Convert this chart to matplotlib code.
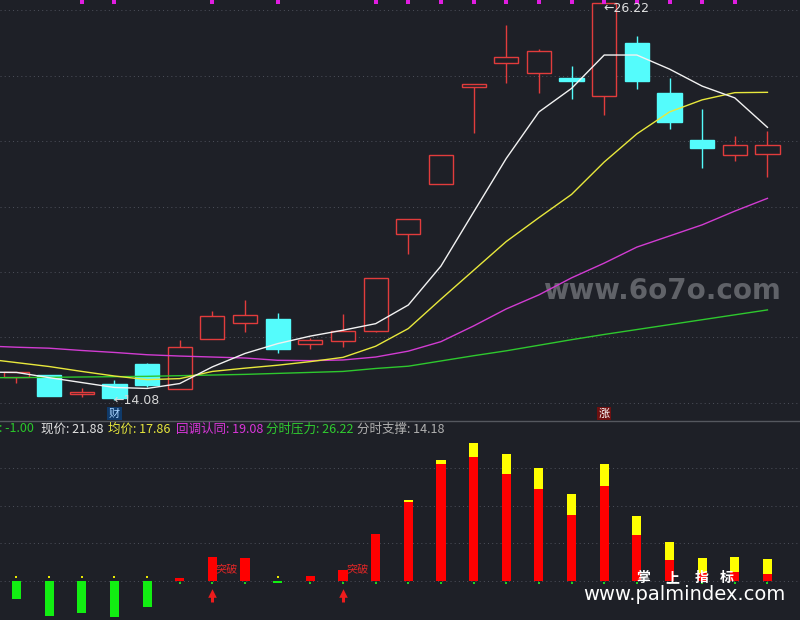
import matplotlib
matplotlib.use('Agg')
import matplotlib.pyplot as plt
import numpy as np
from matplotlib.lines import Line2D
from matplotlib.transforms import blended_transform_factory

# ---------------- data ----------------
opens  = [14.80, 14.85, 14.26, 14.58, 15.19, 14.41, 15.94, 16.45, 16.56, 15.81, 15.90, 16.20,
          19.16, 20.69, 23.66, 24.40, 24.09, 23.93, 23.39, 24.99, 23.47, 22.03, 21.57, 21.61]
closes = [14.93, 14.22, 14.33, 14.16, 14.55, 15.71, 16.64, 16.68, 15.65, 15.91, 16.20, 17.81,
          19.62, 21.57, 23.74, 24.56, 24.75, 23.84, 26.22, 23.85, 22.59, 21.80, 21.89, 21.88]
highs  = [14.93, 14.85, 14.46, 14.70, 15.22, 15.92, 16.81, 17.14, 16.74, 15.98, 16.72, 17.81,
          19.62, 21.57, 23.74, 25.55, 24.80, 24.29, 26.22, 25.21, 23.92, 22.97, 22.16, 22.31]
lows   = [14.60, 14.22, 14.19, 14.08, 14.49, 14.41, 15.94, 16.17, 15.53, 15.64, 15.70, 16.16,
          18.54, 20.69, 22.25, 23.77, 23.48, 23.28, 22.80, 23.60, 22.36, 21.17, 21.40, 20.89]

# moving averages, starting one bar before the first visible candle
ma5  = [14.94, 14.93, 14.77, 14.62, 14.47, 14.44, 14.59, 15.10, 15.51, 15.81, 16.04, 16.22, 16.42,
        16.99, 18.18, 19.83, 21.47, 22.89, 23.61, 24.63, 24.63, 24.20, 23.68, 23.32, 22.42]
ma10 = [15.35, 15.23, 15.11, 14.96, 14.82, 14.71, 14.74, 14.96, 15.06, 15.15, 15.26, 15.39, 15.73,
        16.27, 17.17, 18.05, 18.93, 19.66, 20.37, 21.36, 22.22, 22.89, 23.26, 23.48, 23.49]
ma20 = [15.74, 15.70, 15.67, 15.60, 15.54, 15.47, 15.43, 15.40, 15.37, 15.30, 15.29, 15.31, 15.40,
        15.58, 15.87, 16.35, 16.87, 17.30, 17.82, 18.27, 18.76, 19.10, 19.44, 19.86, 20.25]
ma60 = [14.77, 14.77, 14.78, 14.79, 14.80, 14.81, 14.83, 14.85, 14.87, 14.90, 14.93, 14.96, 15.05,
        15.12, 15.28, 15.44, 15.59, 15.76, 15.93, 16.09, 16.24, 16.39, 16.54, 16.69, 16.84]

top_marks = [2, 3, 6, 8, 11, 12, 13, 14, 15, 16, 17, 18, 19, 20, 21, 22]
event_bars = [3, 18]
event_labels = ['财', '涨']
high_label = '26.22'
low_label = '14.08'

# lower indicator panel
momentum = [-4.80, -9.33, -8.53, -9.60, -6.93, 0.72, 6.32, 5.97, -0.53, 1.25, 2.85, 12.45,
            20.99, 31.12, 32.99, 28.45, 24.45, 17.52, 25.25, 12.19, 5.52, 2.05, 2.32, 1.79]
extension = [0, 0, 0, 0, 0, 0, 0, 0, 0, 0, 0, 0,
             0.53, 1.07, 3.73, 5.34, 5.60, 5.60, 5.87, 5.06, 4.80, 4.00, 4.00, 4.00]
signal_bars = [6, 10]
signal_text = '突破'

header_labels = [': -1.00', '现价: 21.88', '均价: 17.86', '回调认同: 19.08', '分时压力: 26.22', '分时支撑: 14.18']
header_colors = ['#2ac82a', '#e4e4e4', '#e6e63c', '#d936d9', '#30cc30', '#b0b0b0']
header_x = [-1, 41, 108, 176, 266.5, 357]

# ---------------- style ----------------
BG = '#1e2027'
RED = '#e23c3c'
CYAN = '#54fcfc'
GRID = '#4a4d57'
W, H = 800, 620
MAIN_H = 421
CJK = ['Noto Sans CJK SC', 'DejaVu Sans']

fig = plt.figure(figsize=(W / 100, H / 100), dpi=100, facecolor=BG)
ax = fig.add_axes([0, 1 - MAIN_H / H, 1, MAIN_H / H])
ax2 = fig.add_axes([0, 0, 1, 1 - MAIN_H / H])
step = 32.65
xlim = (-16.5 / step, (W - 16.5) / step)
for a in (ax, ax2):
    a.set_facecolor(BG)
    a.set_xlim(*xlim)
    a.set_axis_off()

# ---------------- main panel ----------------
ax.set_ylim(13.445, 26.3117)
for g in np.arange(14, 27, 2):
    ax.axhline(g, color=GRID, lw=0.75, ls=(0, (1, 3)), zorder=0)

o = np.array(opens); c = np.array(closes); h = np.array(highs); l = np.array(lows)
n = len(o)
x = np.arange(n)
up = c >= o
lo = np.minimum(o, c); hi = np.maximum(o, c)

# wicks
ax.vlines(x[up], hi[up], h[up], color=RED, lw=1.0, zorder=2)
ax.vlines(x[up], l[up], lo[up], color=RED, lw=1.0, zorder=2)
ax.vlines(x[~up], l[~up], h[~up], color=CYAN, lw=1.0, zorder=2)
# bodies
ax.bar(x[up], (hi - lo)[up], bottom=lo[up], width=0.74, facecolor=BG, edgecolor=RED, lw=1.0, zorder=3)
ax.bar(x[~up], (hi - lo)[~up], bottom=lo[~up], width=0.74, facecolor=CYAN, edgecolor=CYAN, lw=1.0, zorder=3)

xm = np.arange(-1, n)
ax.plot(xm, ma60, color='#2ec82e', lw=1.0, zorder=4)
ax.plot(xm, ma20, color='#d23cd2', lw=1.0, zorder=4)
ax.plot(xm, ma10, color='#e8e83c', lw=1.0, zorder=4)
ax.plot(xm, ma5, color='#f2f2f2', lw=1.0, zorder=5)

# top signal markers
tb = blended_transform_factory(ax.transData, ax.transAxes)
ax.scatter(top_marks, [1 - 1.5 / MAIN_H] * len(top_marks), marker='s', s=5, color='#e01ee0',
           transform=tb, zorder=6, clip_on=False, linewidths=0)

# high / low labels
ih = int(np.argmax(h)); il = int(np.argmin(l))
ax.annotate('←' + high_label, xy=(ih, h[ih]), xytext=(-1, -5), textcoords='offset pixels',
            ha='left', va='center', color='#e0e0e0', fontsize=9, family='DejaVu Sans', zorder=7)
ax.annotate('←' + low_label, xy=(il, l[il]), xytext=(-1, 0), textcoords='offset pixels',
            ha='left', va='center', color='#d8d8d8', fontsize=9, family='DejaVu Sans', zorder=7)

# event badges
badge_style = {'财': ('#0f3a6a', '#a8d4ff'), '涨': ('#6e1010', '#ffffff')}
for b, lab in zip(event_bars, event_labels):
    bg, fg = badge_style[lab]
    ax.text(b, 1 - 413.5 / MAIN_H, lab, transform=tb, ha='center', va='center', fontsize=8,
            color=fg, family=CJK, zorder=7,
            bbox=dict(boxstyle='square,pad=0.15', facecolor=bg, edgecolor='none'))

# watermark
ax.text(662 / W * (xlim[1] - xlim[0]) + xlim[0], 1 - 291 / MAIN_H, 'www.6o7o.com', transform=tb,
        ha='center', va='center', fontsize=20, fontweight='bold', color='#606268',
        family='DejaVu Sans', zorder=1)

# ---------------- lower panel ----------------
ax2.set_ylim(-10.48, 42.59)
for g in [0, 10, 20, 30]:
    ax2.axhline(g, color=GRID, lw=0.75, ls=(0, (1, 3)), zorder=0)

m = np.array(momentum); e = np.array(extension)
bar_colors = np.where(m >= 0, '#ff0000', '#12ee12')
ax2.bar(x, m, width=0.28, color=bar_colors, zorder=3)
ax2.bar(x, e, bottom=np.maximum(m, 0), width=0.28, color='#ffff00', zorder=3)
ax2.scatter(x[m < 0], [1.07] * int((m < 0).sum()), s=1.5, color='#e8e800', marker='s', linewidths=0, zorder=4)
ax2.scatter(x[m >= 0], [-0.7] * int((m >= 0).sum()), s=1.5, color='#20d020', marker='s', linewidths=0, zorder=4)

for b in signal_bars:
    ax2.vlines(b, -5.7, -4.0, color='#ee1c1c', lw=2.2, zorder=4)
    ax2.scatter([b], [-3.3], marker='^', s=38, color='#ee1c1c', linewidths=0, zorder=4)
    ax2.text(b + 0.1, 3.12, signal_text, ha='left', va='center', fontsize=8, color='#e02626',
             family=CJK, zorder=5)

# header text row
for lab, col, xp in zip(header_labels, header_colors, header_x):
    fig.text(xp / W, 1 - 429 / H, lab, ha='left', va='center', fontsize=9, color=col, family=CJK)

# separator
fig.add_artist(Line2D([0, 1], [1 - MAIN_H / H] * 2, color='#55585f', lw=1.0))

# bottom watermarks
for ch, xp in zip('掌上指标', [643.5, 672.5, 701.5, 726.5]):
    fig.text(xp / W, 1 - 578 / H, ch, ha='center', va='center', fontsize=10, fontweight='bold',
             color='white', family=CJK)
fig.text(684.5 / W, 1 - 594 / H, 'www.palmindex.com', ha='center', va='center', fontsize=14,
         color='white', family='DejaVu Sans')

fig.savefig('out.png', dpi=100, facecolor=BG)
